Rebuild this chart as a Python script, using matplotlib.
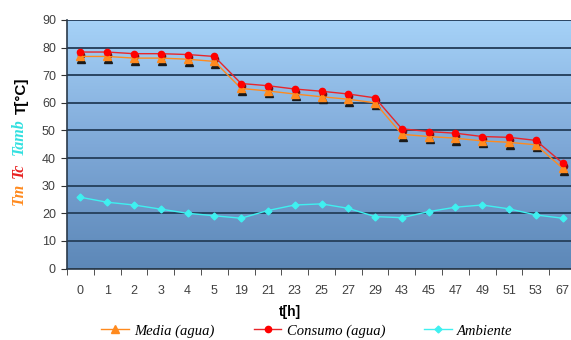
import matplotlib
matplotlib.use("Agg")
import matplotlib.pyplot as plt
import matplotlib.transforms as mtransforms
from matplotlib.colors import LinearSegmentedColormap
import numpy as np

# time stamps [h] and temperatures [°C]
hours = ["0", "1", "2", "3", "4", "5", "19", "21", "23", "25", "27", "29",
         "43", "45", "47", "49", "51", "53", "67"]
t_media = [76.8, 76.8, 76.2, 76.2, 75.8, 75.0, 65.2, 64.3, 63.2, 62.2, 61.3, 60.0,
           48.6, 47.8, 47.2, 46.2, 45.7, 44.8, 36.3]
t_consumo = [78.4, 78.4, 77.8, 77.8, 77.5, 76.8, 67.0, 66.2, 65.0, 64.2, 63.2, 61.8,
             50.6, 49.6, 49.0, 47.8, 47.5, 46.4, 38.2]
t_ambiente = [25.8, 24.0, 23.0, 21.5, 20.0, 19.1, 18.2, 21.0, 23.0, 23.4, 21.8, 18.8,
              18.4, 20.6, 22.2, 23.0, 21.6, 19.4, 18.2]
y_ticks = [0, 10, 20, 30, 40, 50, 60, 70, 80, 90]

W, H = 571, 340
fig = plt.figure(figsize=(W / 100, H / 100), dpi=100)
ax = fig.add_axes([67 / W, 1 - 268.5 / H, (576 - 67) / W, (268.5 - 20) / H])
x = np.arange(len(hours))

# blue gradient plot area
grad = np.linspace(0, 1, 256).reshape(-1, 1)
bg = LinearSegmentedColormap.from_list("bg", ["#5d88b8", "#7fa9d8", "#a6d2f8"])
ax.imshow(grad, cmap=bg, aspect="auto", origin="lower",
          extent=(-0.5, len(hours) - 0.5, 0, 90), zorder=0)

ax.yaxis.grid(True, color="#2a4562", lw=1.4)
ax.set_axisbelow(True)

# drop shadow for the water markers
shadow = mtransforms.offset_copy(ax.transData, fig=fig, x=1, y=-2.5, units="dots")
ax.plot(x, t_media, ls="none", marker="^", ms=6, color="#1a1a1a", transform=shadow, zorder=3)
ax.plot(x, t_consumo, ls="none", marker="o", ms=4.5, color="#7a1010", transform=shadow, zorder=3)

l_media, = ax.plot(x, t_media, color="#ff8a1e", lw=1, marker="^", ms=6,
                   mec="#ff8a1e", label="Media (agua)", zorder=4)
l_consumo, = ax.plot(x, t_consumo, color="#e8262b", lw=1, marker="o", ms=4.5,
                     mec="#ff0000", mfc="#ff0000", label="Consumo (agua)", zorder=5)
l_amb, = ax.plot(x, t_ambiente, color="#3ff0f0", lw=1, marker="D", ms=3.5,
                 label="Ambiente", zorder=4)

ax.set_xlim(-0.5, len(hours) - 0.5)
ax.set_ylim(0, 90)
ax.set_xticks(x)
ax.set_xticklabels(hours)
ax.set_xticks(np.arange(-0.5, len(hours), 1), minor=True)
ax.set_yticks(y_ticks)
ax.tick_params(axis="x", which="major", length=0, pad=12, labelsize=9, labelcolor="#404040")
ax.tick_params(axis="x", which="minor", length=4, color="#333333", direction="out")
ax.tick_params(axis="y", length=4, color="#333333", pad=4, labelsize=9, labelcolor="#404040")
for lab in ax.get_xticklabels() + ax.get_yticklabels():
    lab.set_family("Liberation Sans")

for side in ["top", "right"]:
    ax.spines[side].set_visible(False)
for side in ["left", "bottom"]:
    ax.spines[side].set_color("#2a3a4a")
    ax.spines[side].set_linewidth(1.2)

# axis titles
fig.text(22 / W, 1 - 96 / H, "T[°C]", rotation=90, ha="center", va="center",
         weight="bold", fontsize=11, family="Liberation Sans")
serif = dict(rotation=90, ha="center", va="center", style="italic", weight="bold",
             fontsize=11.5, family="Liberation Serif")
fig.text(19 / W, 1 - 137 / H, "Tamb", color="#33e0e0", **serif)
fig.text(19 / W, 1 - 170 / H, "Tc", color="#e82020", **serif)
fig.text(19 / W, 1 - 194 / H, "Tm", color="#ff8a1e", **serif)
fig.text(290 / W, 1 - 312 / H, "t[h]", ha="center", va="center", weight="bold",
         fontsize=10, family="Liberation Sans")

fig.legend(handles=[l_media, l_consumo, l_amb], loc="center",
           bbox_to_anchor=(307 / W, 1 - 331 / H), ncol=3, frameon=False,
           prop={"family": "Liberation Serif", "style": "italic", "size": 10.5},
           handlelength=1.9, handletextpad=0.35, columnspacing=2.7)

fig.savefig("out.png", dpi=100)
